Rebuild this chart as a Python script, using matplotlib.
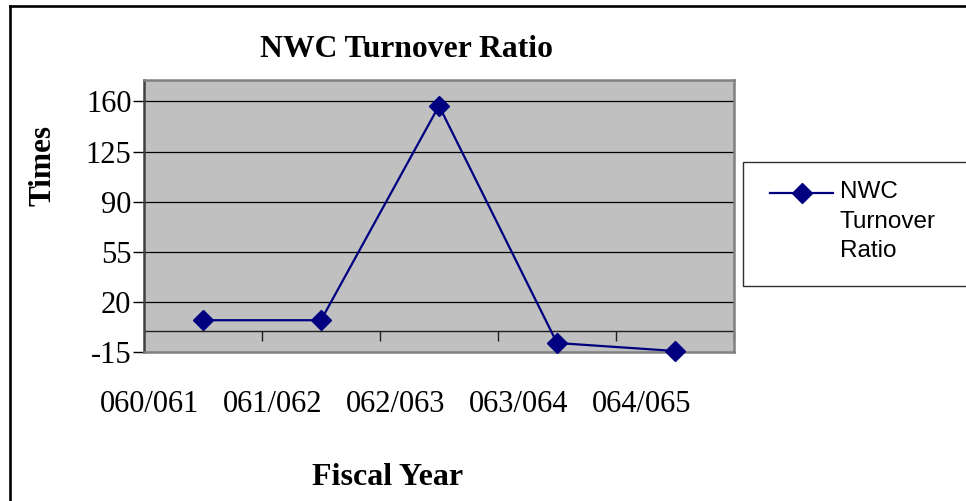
import matplotlib
matplotlib.use("Agg")
import matplotlib.pyplot as plt
from matplotlib.lines import Line2D
from matplotlib.patches import Rectangle

categories = ["060/061", "061/062", "062/063", "063/064", "064/065"]
values = [7.2, 7.2, 157.0, -8.7, -14.3]
y_ticks = [-15, 20, 55, 90, 125, 160]
series_name = "NWC\nTurnover\nRatio"

W, H = 966, 501
fig = plt.figure(figsize=(W / 100, H / 100), dpi=100)
fig.patch.set_facecolor("white")

def fx(px):
    return px / W

def fy(py):
    return 1 - py / H

NAVY = "#000080"

# axes area in pixels
L, R, T, B = 144, 734, 80, 352
ax = fig.add_axes([fx(L), fy(B), fx(R - L), (B - T) / H])
ax.set_facecolor("#C0C0C0")

n = len(categories)
xs = list(range(n))
ax.set_xlim(-0.5, n - 0.5)
ax.set_ylim(-15, 175)

# gridlines
for v in y_ticks[1:]:
    ax.axhline(v, color="black", lw=0.9, zorder=1)
# category axis at zero with boundary ticks
ax.axhline(0, color="#202020", lw=1.0, zorder=1)
bounds = [i - 0.5 for i in range(1, n)] + [n - 0.5]
ax.vlines(bounds, -7, 0, color="#202020", lw=1.0, zorder=1, clip_on=False)

ax.plot(xs, values, color=NAVY, lw=1.6, marker="D", markersize=10,
        markerfacecolor=NAVY, markeredgecolor=NAVY, zorder=3, clip_on=False)

ax.set_yticks(y_ticks)
ax.set_yticklabels([str(v) for v in y_ticks], fontfamily="Liberation Serif", fontsize=22)
ax.tick_params(axis="y", direction="out", length=8, width=1.0, color="black", pad=1)
ax.set_xticks([])

for s in ["top", "right", "bottom"]:
    ax.spines[s].set_color("#808080")
    ax.spines[s].set_linewidth(1.8)
ax.spines["left"].set_color("#404040")
ax.spines["left"].set_linewidth(1.8)

# category labels (Excel spreads them slightly differently from the plot slots)
ax2 = ax.twiny()
ax2.set_xlim(-0.049, 4.748)
ax2.set_xticks(xs)
ax2.set_xticklabels(categories, fontfamily="Liberation Serif", fontsize=22)
ax2.xaxis.set_ticks_position("bottom")
ax2.tick_params(axis="x", length=0, pad=27)
for s in ax2.spines.values():
    s.set_visible(False)

# titles
fig.text(fx(406), fy(57), "NWC Turnover Ratio", fontfamily="Liberation Serif",
         fontweight="bold", fontsize=22.8, ha="center", va="baseline")
fig.text(fx(43), fy(166), "Times", fontfamily="Liberation Serif", fontweight="bold",
         fontsize=22.5, rotation=90, ha="center", va="center")
fig.text(fx(388), fy(485), "Fiscal Year", fontfamily="Liberation Serif",
         fontweight="bold", fontsize=23, ha="center", va="baseline")

# legend (manual, Excel-style: handle aligned with first text line)
fig.patches.append(Rectangle((fx(743), fy(286)), fx(240), (286 - 162) / H,
                             transform=fig.transFigure, facecolor="white",
                             edgecolor="#303030", lw=1.0, zorder=0))
fig.add_artist(Line2D([fx(770), fx(833)], [fy(193), fy(193)], transform=fig.transFigure,
                      color=NAVY, lw=1.6))
fig.add_artist(Line2D([fx(801.5)], [fy(193)], transform=fig.transFigure, color=NAVY,
                      marker="D", markersize=10, markerfacecolor=NAVY, markeredgecolor=NAVY))
fig.text(fx(840), fy(181), series_name, fontfamily="Liberation Sans", fontsize=17.5,
         ha="left", va="top", linespacing=1.45)

# outer frame (left and top)
fig.add_artist(Line2D([fx(9.5), fx(9.5)], [0, fy(5.5)], transform=fig.transFigure,
                      color="black", lw=1.9, solid_capstyle="projecting"))
fig.add_artist(Line2D([fx(9.5), 1], [fy(6), fy(6)], transform=fig.transFigure,
                      color="black", lw=1.9, solid_capstyle="projecting"))

fig.savefig("out.png", dpi=100)
